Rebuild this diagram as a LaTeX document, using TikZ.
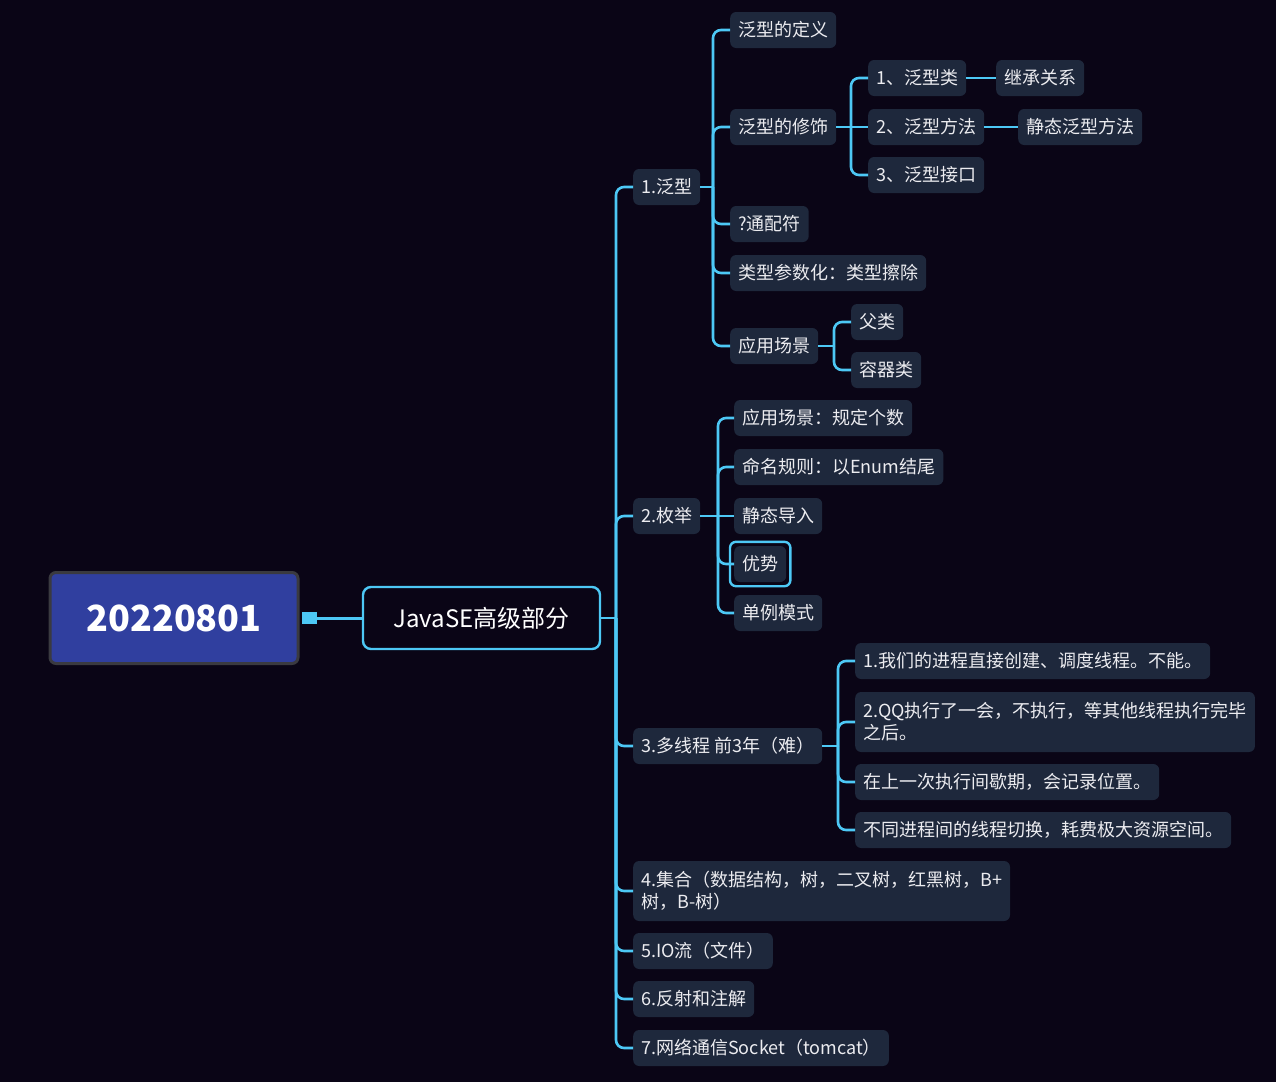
\documentclass[tikz,border=0pt]{standalone}
\usepackage{fontspec}
\setmainfont{Noto Sans CJK SC}
\usepackage{tikz}
\usetikzlibrary{calc}
\definecolor{mmBg}{RGB}{10,5,22}
\definecolor{mmBox}{RGB}{30,40,60}
\definecolor{mmLine}{RGB}{77,200,245}
\definecolor{mmRoot}{RGB}{48,63,159}
\definecolor{mmEdge}{RGB}{58,58,64}
\definecolor{mmText}{RGB}{236,236,240}
\tikzset{
  box/.style={fill=mmBox, rounded corners=6pt, text=mmText, anchor=west, align=left,
    font=\fontsize{18}{22}\selectfont, inner xsep=8pt, inner ysep=6pt, minimum height=36pt},
  twoline/.style={box, minimum height=60pt},
  link/.style={draw=mmLine, line width=2.6pt, rounded corners=8pt},
}
\begin{document}
\begin{tikzpicture}[x=1pt, y=-1pt]
\fill[mmBg] (0,0) rectangle (1276,1082);
\useasboundingbox (0,0) rectangle (1276,1082);
% ======== ROOT and central topic ========
\node[fill=mmRoot, draw=mmEdge, line width=3pt, rounded corners=6pt, minimum width=248pt,
  minimum height=91pt, text=white, font=\fontsize{36}{40}\selectfont\bfseries] (root) at (174,618) {20220801};
\node[fill=mmLine, minimum width=15pt, minimum height=12pt, inner sep=0pt, anchor=west] (knob) at ([xshift=2pt]root.east) {};
\node[draw=mmLine, line width=2.4pt, rounded corners=8pt, minimum width=237pt, minimum height=62pt,
  text=white, font=\fontsize{24}{28}\selectfont] (main) at (481.5,618) {JavaSE高级部分};
\draw[mmLine, line width=3pt] (knob.east) -- (main.west);
% ======== level 1 branches ========
\foreach \n/\y/\t in {b1/187/{1.泛型}, b2/516/{2.枚举}, b3/746/{3.多线程 前3年（难）},
  b5/951/{5.IO流（文件）}, b6/999/{6.反射和注解}, b7/1048/{7.网络通信Socket（tomcat）}}
  \node[box] (\n) at (633,\y) {\t};
\node[twoline] (b4) at (633,891) {4.集合（数据结构，树，二叉树，红黑树，B+\\树，B-树）};
\coordinate (s0) at ($(main.east -| b1.west)+(-17,0)$);
\draw[link] (main.east) -- (s0);
\foreach \c in {b1,b2,b3,b4,b5,b6,b7} \draw[link] (s0) |- (\c.west);
% ======== 1.泛型 ========
\foreach \n/\y/\t in {g1/30/泛型的定义, g2/127/泛型的修饰, g3/224/?通配符,
  g4/273/类型参数化：类型擦除, g5/346/应用场景}
  \node[box] (\n) at (730,\y) {\t};
\coordinate (s1) at ($(b1.east -| g1.west)+(-17,0)$);
\draw[link] (b1.east) -- (s1);
\foreach \c in {g1,g2,g3,g4,g5} \draw[link] (s1) |- (\c.west);
% modifiers: class / method / interface
\foreach \n/\y/\t in {m1/78/{1、泛型类}, m2/127/{2、泛型方法}, m3/175/{3、泛型接口}}
  \node[box] (\n) at (868,\y) {\t};
\coordinate (s2) at ($(g2.east -| m1.west)+(-17,0)$);
\draw[link] (g2.east) -- (s2);
\foreach \c in {m1,m3} \draw[link] (s2) |- (\c.west);
\draw[link] (s2) -- (m2.west);
\node[box] (k1) at (996,78) {继承关系};
\node[box] (k2) at (1018,127) {静态泛型方法};
\draw[link] (m1.east) -- (k1.west);
\draw[link] (m2.east) -- (k2.west);
% use cases
\node[box] (a1) at (851,322) {父类};
\node[box] (a2) at (851,370) {容器类};
\coordinate (s3) at ($(g5.east -| a1.west)+(-17,0)$);
\draw[link] (g5.east) -- (s3);
\foreach \c in {a1,a2} \draw[link] (s3) |- (\c.west);
% ======== 2.枚举 ========
\foreach \n/\y/\t in {e1/418/应用场景：规定个数, e2/467/命名规则：以Enum结尾, e3/516/静态导入,
  e4/564/优势, e5/613/单例模式}
  \node[box] (\n) at (734,\y) {\t};
\draw[mmLine, line width=2.4pt, rounded corners=6pt] ($(e4.north west)+(-4,-4)$) rectangle ($(e4.south east)+(4,4)$);
\coordinate (s4) at ($(b2.east -| e1.west)+(-16,0)$);
\draw[link] (b2.east) -- (s4);
\foreach \c in {e1,e2,e4,e5} \draw[link] (s4) |- (\c.west);
\draw[link] (s4) -- (e3.west);
% ======== 3.多线程 ========
\foreach \n/\y/\t in {t1/661/{1.我们的进程直接创建、调度线程。不能。},
  t3/782/{在上一次执行间歇期，会记录位置。}, t4/830/{不同进程间的线程切换，耗费极大资源空间。}}
  \node[box] (\n) at (855,\y) {\t};
\node[twoline] (t2) at (855,722) {2.QQ执行了一会，不执行，等其他线程执行完毕\\之后。};
\coordinate (s5) at ($(b3.east -| t1.west)+(-17,0)$);
\draw[link] (b3.east) -- (s5);
\foreach \c in {t1,t2,t3,t4} \draw[link] (s5) |- (\c.west);
\end{tikzpicture}
\end{document}
